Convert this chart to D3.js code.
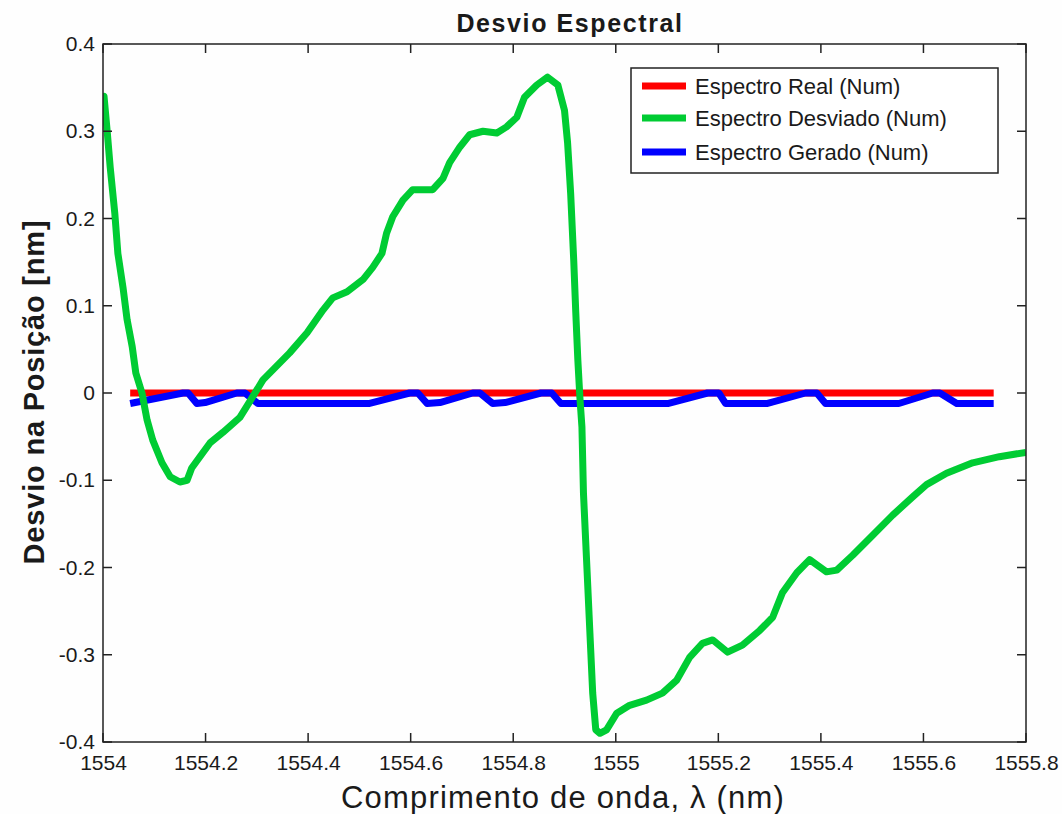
<!DOCTYPE html>
<html>
<head>
<meta charset="utf-8">
<script src="https://cdn.jsdelivr.net/npm/d3@7"></script>
<style>
  body { margin: 0; background: #fefefe; }
  text { font-family: "Liberation Sans", Arial, sans-serif; fill: #1a1a1a; }
</style>
</head>
<body>
<svg id="chart"></svg>
<script>
// wavelength ticks and deviation ticks
const xTicks = [1554, 1554.2, 1554.4, 1554.6, 1554.8, 1555, 1555.2, 1555.4, 1555.6, 1555.8];
const yTicks = [-0.4, -0.3, -0.2, -0.1, 0, 0.1, 0.2, 0.3, 0.4];

const seriesNames = ["Espectro Real (Num)", "Espectro Desviado (Num)", "Espectro Gerado (Num)"];

// Espectro Real: flat at zero
const realLambda = [1554.053, 1555.737];
const realDev = [0, 0];

// Espectro Desviado (green)
const desvLambda = [1554.000, 1554.002, 1554.008, 1554.014, 1554.023, 1554.029, 1554.039, 1554.047, 1554.057, 1554.064,
  1554.076, 1554.086, 1554.097, 1554.115, 1554.131, 1554.150, 1554.164, 1554.173, 1554.189, 1554.209,
  1554.234, 1554.267, 1554.287, 1554.312, 1554.364, 1554.398, 1554.429, 1554.448, 1554.476, 1554.507,
  1554.526, 1554.544, 1554.553, 1554.565, 1554.585, 1554.604, 1554.643, 1554.663, 1554.676, 1554.696,
  1554.715, 1554.741, 1554.768, 1554.787, 1554.807, 1554.822, 1554.846, 1554.867, 1554.887, 1554.900,
  1554.906, 1554.912, 1554.918, 1554.922, 1554.926, 1554.930, 1554.934, 1554.937, 1554.943, 1554.949,
  1554.955, 1554.961, 1554.969, 1554.982, 1555.002, 1555.027, 1555.060, 1555.091, 1555.119, 1555.144,
  1555.169, 1555.189, 1555.218, 1555.247, 1555.281, 1555.306, 1555.325, 1555.353, 1555.378, 1555.411,
  1555.431, 1555.462, 1555.501, 1555.540, 1555.579, 1555.606, 1555.645, 1555.696, 1555.748, 1555.800];
const desvDev = [0.339, 0.340, 0.301, 0.259, 0.206, 0.160, 0.121, 0.084, 0.053, 0.023,
  0.000, -0.031, -0.054, -0.080, -0.096, -0.102, -0.100, -0.086, -0.073, -0.057,
  -0.045, -0.028, -0.009, 0.015, 0.046, 0.069, 0.095, 0.109, 0.116, 0.130,
  0.144, 0.160, 0.183, 0.202, 0.221, 0.233, 0.233, 0.246, 0.264, 0.282,
  0.296, 0.300, 0.298, 0.305, 0.316, 0.339, 0.353, 0.362, 0.353, 0.324,
  0.287, 0.229, 0.152, 0.092, 0.038, -0.005, -0.039, -0.115, -0.191, -0.268,
  -0.344, -0.386, -0.390, -0.386, -0.367, -0.358, -0.352, -0.344, -0.329, -0.303,
  -0.287, -0.283, -0.297, -0.289, -0.272, -0.257, -0.229, -0.206, -0.191, -0.205,
  -0.203, -0.186, -0.163, -0.140, -0.119, -0.105, -0.092, -0.080, -0.073, -0.068];

// Espectro Gerado (blue)
const gerLambda = [1554.053, 1554.156, 1554.166, 1554.183, 1554.199, 1554.261, 1554.277, 1554.302, 1554.520, 1554.598,
  1554.614, 1554.632, 1554.657, 1554.721, 1554.735, 1554.760, 1554.784, 1554.854, 1554.875, 1554.893,
  1555.103, 1555.179, 1555.201, 1555.214, 1555.296, 1555.370, 1555.392, 1555.409, 1555.552, 1555.618,
  1555.632, 1555.665, 1555.737];
const gerDev = [-0.012, 0, 0, -0.012, -0.011, 0, 0, -0.012, -0.012, 0,
  0, -0.012, -0.011, 0, 0, -0.012, -0.011, 0, 0, -0.012,
  -0.012, 0, 0, -0.012, -0.012, 0, 0, -0.012, -0.012, 0,
  0, -0.012, -0.012];

const colors = ["#ff0000", "#00cc33", "#0000ff"];

function drawChart(width, height) {
  let margin = {left: 103, top: 44, right: width - 1026, bottom: height - 742};
  let svg = d3.select("#chart")
      .attr("width", width)
      .attr("height", height);

  let x = d3.scaleLinear().domain([1554, 1555.8]).range([margin.left, width - margin.right]);
  let y = d3.scaleLinear().domain([-0.4, 0.4]).range([height - margin.bottom, margin.top]);

  svg.append("clipPath").attr("id", "plot-clip")
    .append("rect")
      .attr("x", x.range()[0]).attr("y", y.range()[1])
      .attr("width", x.range()[1] - x.range()[0])
      .attr("height", y.range()[0] - y.range()[1]);

  // zip the named arrays into point lists
  let zip = (xs, ys) => xs.map((v, i) => [v, ys[i]]);
  let series = [
    {name: seriesNames[0], color: colors[0], pts: zip(realLambda, realDev)},
    {name: seriesNames[2], color: colors[2], pts: zip(gerLambda, gerDev)},
    {name: seriesNames[1], color: colors[1], pts: zip(desvLambda, desvDev)}
  ];

  let line = d3.line().x(d => x(d[0])).y(d => y(d[1]));

  svg.append("g").attr("clip-path", "url(#plot-clip)")
    .selectAll("path")
    .data(series)
    .enter()
    .append("path")
      .attr("d", d => line(d.pts))
      .attr("fill", "none")
      .attr("stroke", d => d.color)
      .attr("stroke-width", 7)
      .attr("stroke-linejoin", "round");

  // matlab style labels: plain hyphen for the minus sign
  let fmt = d => String(+d.toFixed(2));

  // axes: ticks point inward, like matlab
  let tick = 9;
  let bottom = d3.axisBottom(x).tickValues(xTicks).tickSize(0).tickFormat(fmt);
  let left = d3.axisLeft(y).tickValues(yTicks).tickSize(0).tickFormat(fmt);

  let gx = svg.append("g")
      .attr("transform", `translate(0,${y.range()[0]})`)
      .call(bottom);
  gx.selectAll("text").attr("dy", "0.71em").attr("y", 13).style("font-size", "21px");

  let gy = svg.append("g")
      .attr("transform", `translate(${x.range()[0]},0)`)
      .call(left);
  gy.selectAll("text").attr("x", -8).style("font-size", "21px");
  svg.selectAll(".domain").remove();

  // inner tick marks on all four sides
  let marks = svg.append("g").attr("stroke", "#222").attr("stroke-width", 1.5);
  xTicks.forEach(t => {
    marks.append("line").attr("x1", x(t)).attr("x2", x(t))
      .attr("y1", y.range()[0]).attr("y2", y.range()[0] - tick);
    marks.append("line").attr("x1", x(t)).attr("x2", x(t))
      .attr("y1", y.range()[1]).attr("y2", y.range()[1] + tick);
  });
  yTicks.forEach(t => {
    marks.append("line").attr("y1", y(t)).attr("y2", y(t))
      .attr("x1", x.range()[0]).attr("x2", x.range()[0] + tick);
    marks.append("line").attr("y1", y(t)).attr("y2", y(t))
      .attr("x1", x.range()[1]).attr("x2", x.range()[1] - tick);
  });

  // the box
  svg.append("rect")
      .attr("x", x.range()[0]).attr("y", y.range()[1])
      .attr("width", x.range()[1] - x.range()[0])
      .attr("height", y.range()[0] - y.range()[1])
      .attr("fill", "none")
      .attr("stroke", "#222")
      .attr("stroke-width", 1.5);

  // legend
  let legend = svg.append("g").attr("transform", "translate(631,68)");
  legend.append("rect")
      .attr("width", 367).attr("height", 105)
      .attr("fill", "#fff").attr("stroke", "#222").attr("stroke-width", 1.5);
  let legendOrder = [series[0], series[2], series[1]];
  let rows = [18, 50, 84];
  legendOrder.forEach((s, i) => {
    legend.append("line")
        .attr("x1", 11).attr("x2", 55)
        .attr("y1", rows[i]).attr("y2", rows[i])
        .attr("stroke", s.color).attr("stroke-width", 7);
    legend.append("text")
        .attr("x", 64).attr("y", rows[i])
        .attr("dy", "0.36em")
        .style("font-size", "22px")
        .text(s.name);
  });

  // titles
  svg.append("text")
      .attr("x", 570).attr("y", 32)
      .style("text-anchor", "middle")
      .style("font-size", "25px")
      .style("font-weight", "bold")
      .style("letter-spacing", "1.6px")
      .text("Desvio Espectral");

  svg.append("text")
      .attr("x", 563).attr("y", 808)
      .style("text-anchor", "middle")
      .style("font-size", "31px")
      .style("letter-spacing", "1.2px")
      .text("Comprimento de onda, λ (nm)");

  svg.append("text")
      .attr("transform", "translate(44,392) rotate(-90)")
      .style("text-anchor", "middle")
      .style("font-size", "29px")
      .style("font-weight", "bold")
      .style("letter-spacing", "0.8px")
      .text("Desvio na Posição [nm]");
}

drawChart(1062, 814);
</script>
</body>
</html>
